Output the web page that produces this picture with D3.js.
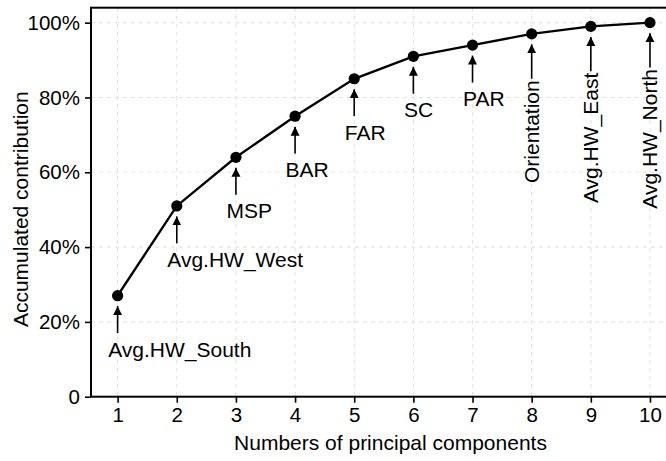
<!DOCTYPE html>
<html>
<head>
<meta charset="utf-8">
<script src="https://cdn.jsdelivr.net/npm/d3@7"></script>
<style>
  html, body { margin: 0; padding: 0; background: #fff; }
  svg { display: block; font-family: "Liberation Sans", Arial, sans-serif; }
</style>
</head>
<body>
<svg id="chart" width="666" height="461"></svg>
<script>
// Number of principal components and the accumulated contribution (%)
const components = [1, 2, 3, 4, 5, 6, 7, 8, 9, 10];
const accumulated = [27, 51, 64, 75, 85, 91, 94, 97, 99, 100];
// Variable added at each step
const variableNames = ["Avg.HW_South", "Avg.HW_West", "MSP", "BAR", "FAR", "SC", "PAR",
                       "Orientation", "Avg.HW_East", "Avg.HW_North"];
// true: label written vertically alongside its arrow
const verticalLabel = [false, false, false, false, false, false, false, true, true, true];
const xTicks = [1, 2, 3, 4, 5, 6, 7, 8, 9, 10];
const yTicks = [0, 20, 40, 60, 80, 100];

const svg = d3.select("#chart");
const pLeft = 91, pBottom = 396.7, pTop = 7.7, pRight = 676.6;

const x = d3.scaleLinear().domain([0.55, 10.45]).range([pLeft, pRight]);
const y = d3.scaleLinear().domain([0, 104]).range([pBottom, pTop]);

const FONT = 21, TICK_FONT = 20.5;
const INK = "#000";

// dashed grid
const grid = svg.append("g");
grid.selectAll("line.gx").data(xTicks).join("line")
  .attr("x1", d => x(d)).attr("x2", d => x(d))
  .attr("y1", pTop).attr("y2", pBottom)
  .attr("stroke", "#e3e3e3").attr("stroke-width", 1.1).attr("stroke-dasharray", "4,4");
grid.selectAll("line.gy").data(yTicks.filter(d => d > 0)).join("line")
  .attr("x1", pLeft).attr("x2", pRight)
  .attr("y1", d => y(d)).attr("y2", d => y(d))
  .attr("stroke", "#e3e3e3").attr("stroke-width", 1.1).attr("stroke-dasharray", "4,4");

// axes
const xAxis = d3.axisBottom(x).tickValues(xTicks).tickSize(6).tickPadding(5)
  .tickFormat(d3.format("d"));
const yAxis = d3.axisLeft(y).tickValues(yTicks).tickSize(6).tickPadding(5)
  .tickFormat(d => d === 0 ? "0" : d + "%");

const gx = svg.append("g").attr("transform", `translate(0,${pBottom})`).call(xAxis);
const gy = svg.append("g").attr("transform", `translate(${pLeft},0)`).call(yAxis);
[gx, gy].forEach(g => {
  g.select(".domain").remove();
  g.selectAll(".tick line").attr("stroke", INK).attr("stroke-width", 1.6);
  g.selectAll(".tick text").attr("fill", INK).style("font-size", TICK_FONT + "px")
    .style("font-family", '"Liberation Sans", Arial, sans-serif');
});

// panel border
svg.append("rect")
  .attr("x", pLeft).attr("y", pTop)
  .attr("width", pRight - pLeft).attr("height", pBottom - pTop)
  .attr("fill", "none").attr("stroke", INK).attr("stroke-width", 2);

// axis titles
svg.append("text")
  .attr("x", (pLeft + 666) / 2 + 12).attr("y", 450)
  .attr("text-anchor", "middle").attr("fill", INK)
  .style("font-size", FONT + "px")
  .text("Numbers of principal components");
svg.append("text")
  .attr("transform", `translate(28,${(pTop + pBottom) / 2 + 7}) rotate(-90)`)
  .attr("text-anchor", "middle").attr("fill", INK)
  .style("font-size", FONT + "px")
  .text("Accumulated contribution");

// arrow head marker
svg.append("defs").append("marker")
  .attr("id", "head").attr("viewBox", "0 0 10 10")
  .attr("refX", 10).attr("refY", 5)
  .attr("markerWidth", 9).attr("markerHeight", 10)
  .attr("markerUnits", "userSpaceOnUse")
  .attr("orient", "auto")
  .append("path").attr("d", "M0,0 L10,5 L0,10 Z").attr("fill", INK);

const pts = components.map((c, i) => ({
  c, v: accumulated[i], name: variableNames[i], vert: verticalLabel[i]
}));

// annotations: arrow pointing up at each point, with the variable name
const ann = svg.append("g");
ann.selectAll("line").data(pts).join("line")
  .attr("x1", d => x(d.c)).attr("x2", d => x(d.c))
  .attr("y1", d => y(d.v - (d.vert ? 12 : 10)))
  .attr("y2", d => y(d.v - 2.8))
  .attr("stroke", INK).attr("stroke-width", 1.6)
  .attr("marker-end", "url(#head)");

ann.selectAll("text.h").data(pts.filter(d => !d.vert)).join("text")
  .attr("class", "h")
  .attr("x", d => x(d.c - 0.16)).attr("y", d => y(d.v - 16.3))
  .attr("fill", INK).style("font-size", FONT + "px")
  .text(d => d.name);

ann.selectAll("text.v").data(pts.filter(d => d.vert)).join("text")
  .attr("class", "v")
  .attr("transform", d => `translate(${x(d.c)},${y(d.v - 12.4)}) rotate(-90)`)
  .attr("text-anchor", "end").attr("dy", "0.35em")
  .attr("fill", INK).style("font-size", FONT + "px")
  .text(d => d.name);

// cumulative curve
svg.append("path").datum(pts)
  .attr("d", d3.line().x(d => x(d.c)).y(d => y(d.v)))
  .attr("fill", "none").attr("stroke", INK).attr("stroke-width", 2.4);

svg.append("g").selectAll("circle").data(pts).join("circle")
  .attr("cx", d => x(d.c)).attr("cy", d => y(d.v)).attr("r", 5.6)
  .attr("fill", INK);
</script>
</body>
</html>
